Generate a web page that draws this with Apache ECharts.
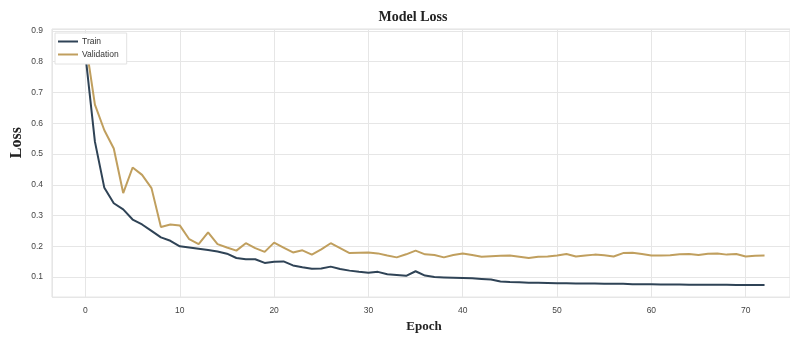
<!DOCTYPE html>
<html><head><meta charset="utf-8">
<script src="https://cdn.jsdelivr.net/npm/echarts@6/dist/echarts.min.js"></script>
<style>html,body{margin:0;padding:0;background:#fff}#c{width:790px;height:338px}</style>
</head><body><div id="c"></div>
<script>
const epochs = Array.from({length: 73}, (_, i) => i);
const trainLoss = [0.82,0.54,0.39,0.34,0.32,0.287,0.271,0.25,0.229,0.218,
0.20,0.196,0.192,0.188,0.183,0.176,0.162,0.158,0.158,0.146,
0.15,0.151,0.138,0.132,0.127,0.128,0.134,0.126,0.121,0.117,
0.114,0.117,0.109,0.107,0.104,0.119,0.105,0.100,0.099,0.098,
0.097,0.096,0.094,0.092,0.086,0.084,0.083,0.082,0.082,0.081,
0.080,0.080,0.079,0.079,0.079,0.078,0.078,0.078,0.077,0.077,
0.077,0.076,0.076,0.076,0.075,0.075,0.075,0.075,0.075,0.074,
0.074,0.074,0.074];
const valLoss = [0.866,0.66,0.577,0.518,0.373,0.456,0.432,0.389,0.263,0.271,
0.268,0.223,0.207,0.245,0.207,0.196,0.186,0.21,0.194,0.182,
0.212,0.196,0.18,0.187,0.173,0.19,0.21,0.194,0.178,0.179,
0.18,0.177,0.17,0.164,0.174,0.186,0.174,0.172,0.164,0.172,
0.177,0.172,0.166,0.168,0.169,0.17,0.166,0.162,0.166,0.167,
0.17,0.175,0.167,0.17,0.173,0.171,0.167,0.178,0.179,0.175,
0.17,0.17,0.171,0.174,0.175,0.172,0.176,0.177,0.173,0.175,
0.167,0.169,0.17];
const seriesNames = ['Train', 'Validation'];
const titleText = 'Model Loss';
const xTitle = 'Epoch';
const yTitle = 'Loss';

const chart = echarts.init(document.getElementById('c'));
const near = (v, step) => Math.abs(v / step - Math.round(v / step)) < 1e-6;
chart.setOption({
  animation: false,
  backgroundColor: '#fff',
  title: {text: titleText, left: 408, top: 5, textAlign: 'center',
    textStyle: {fontFamily: 'Liberation Serif', fontWeight: 'bold', fontSize: 14, color: '#222'}},
  graphic: [
    {type: 'text', left: 9, top: 127, rotation: Math.PI / 2,
      style: {text: yTitle, font: 'bold 16px "Liberation Serif"', fill: '#222'}},
  ],
  legend: {
    data: seriesNames, orient: 'vertical', left: 55, top: 33,
    backgroundColor: '#fff', borderColor: '#e2e2e2', borderWidth: 1,
    padding: [4, 8, 5, 3], itemGap: 4, itemWidth: 20, itemHeight: 2, icon: 'rect',
    textStyle: {fontFamily: 'Liberation Sans', fontSize: 8.5, color: '#333', padding: [0, 0, 0, -1]}
  },
  grid: {left: 52, top: 29, right: 0, bottom: 38, show: true, borderColor: '#e0e0e0', borderWidth: 1},
  xAxis: {
    type: 'value', min: -3.55, max: 74.7, splitNumber: 8,
    name: xTitle, nameLocation: 'middle', nameGap: 21,
    nameTextStyle: {fontFamily: 'Liberation Serif', fontWeight: 'bold', fontSize: 13, color: '#222', padding: [0, 0, 0, 6]},
    axisLine: {show: false}, axisTick: {show: false},
    axisLabel: {showMinLabel: false, showMaxLabel: false, fontFamily: 'Liberation Sans', fontSize: 8.5, color: '#444', margin: 9,
      formatter: v => near(v, 10) ? String(Math.round(v)) : ''},
    splitLine: {show: true, lineStyle: {color: '#e6e6e6', width: 1}}
  },
  yAxis: {
    type: 'value', min: 0.035, max: 0.906, splitNumber: 8,
    axisLine: {show: false}, axisTick: {show: false},
    axisLabel: {showMinLabel: false, showMaxLabel: false, fontFamily: 'Liberation Sans', fontSize: 8.5, color: '#444', margin: 9,
      formatter: v => near(v, 0.1) ? (Math.round(v * 10) / 10).toFixed(1) : ''},
    splitLine: {show: true, lineStyle: {color: '#e6e6e6', width: 1}}
  },
  series: [
    {name: seriesNames[0], type: 'line', showSymbol: false, data: epochs.map((e, i) => [e, trainLoss[i]]),
      lineStyle: {color: '#2f4356', width: 2}, itemStyle: {color: '#2f4356'}, z: 3},
    {name: seriesNames[1], type: 'line', showSymbol: false, data: epochs.map((e, i) => [e, valLoss[i]]),
      lineStyle: {color: '#c09f5e', width: 2}, itemStyle: {color: '#c09f5e'}, z: 2}
  ]
});
</script></body></html>
